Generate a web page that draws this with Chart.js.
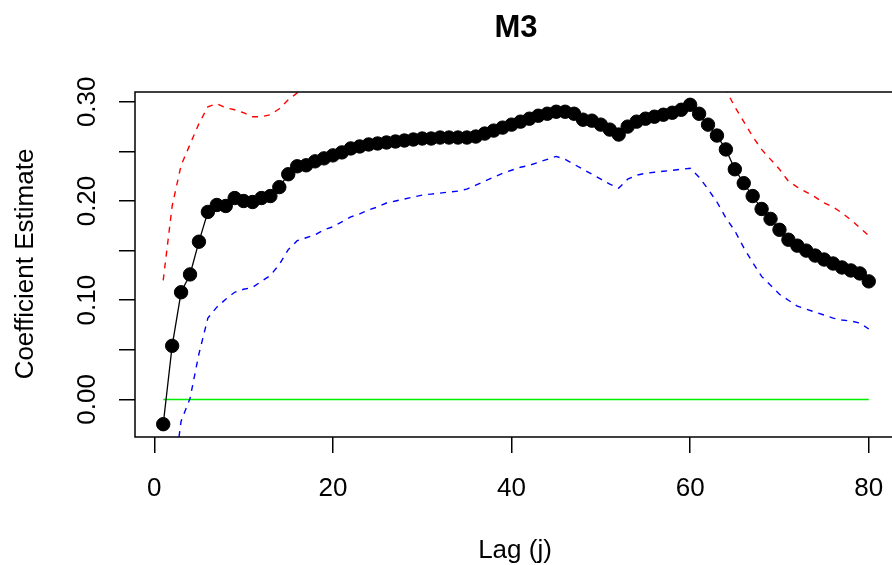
<!DOCTYPE html>
<html lang="en">
<head>
  <meta charset="UTF-8">
  <title>M3 - Coefficient Estimate by Lag</title>
  <script src="https://cdn.jsdelivr.net/npm/chart.js"></script>
  <style>
    html, body {
      margin: 0;
      padding: 0;
      background: #ffffff;
      overflow: hidden;
    }
    canvas {
      display: block;
    }
  </style>
</head>
<body>

  <canvas id="lagChart" width="897" height="565"></canvas>

  <script>
    const lags = [
      1, 2, 3, 4, 5, 6, 7, 8, 9, 10, 11, 12, 13, 14, 15, 16, 17, 18, 19, 20,
      21, 22, 23, 24, 25, 26, 27, 28, 29, 30, 31, 32, 33, 34, 35, 36, 37, 38, 39, 40,
      41, 42, 43, 44, 45, 46, 47, 48, 49, 50, 51, 52, 53, 54, 55, 56, 57, 58, 59, 60,
      61, 62, 63, 64, 65, 66, 67, 68, 69, 70, 71, 72, 73, 74, 75, 76, 77, 78, 79, 80
    ];

    // point estimates
    const estimate = [
      -0.025, 0.054, 0.108, 0.126, 0.159, 0.189, 0.196, 0.195, 0.203, 0.200,
      0.199, 0.203, 0.205, 0.214, 0.227, 0.235, 0.236, 0.240, 0.243, 0.246,
      0.249, 0.253, 0.255, 0.257, 0.258, 0.259, 0.260, 0.261, 0.262, 0.263,
      0.263, 0.264, 0.264, 0.264, 0.264, 0.265, 0.268, 0.271, 0.274, 0.277,
      0.280, 0.283, 0.286, 0.288, 0.290, 0.290, 0.288, 0.282, 0.281, 0.277,
      0.272, 0.267, 0.275, 0.280, 0.283, 0.285, 0.287, 0.289, 0.292, 0.297,
      0.288, 0.277, 0.266, 0.252, 0.232, 0.218, 0.205, 0.192, 0.182, 0.171,
      0.161, 0.155, 0.150, 0.145, 0.141, 0.137, 0.133, 0.130, 0.127, 0.119
    ];

    // upper band (red)
    const upper = [
      0.120, 0.195, 0.236, 0.257, 0.278, 0.295, 0.298, 0.294, 0.292, 0.289,
      0.285, 0.285, 0.287, 0.293, 0.302, 0.309, 0.312, 0.314, 0.315, 0.318,
      0.319, 0.322, 0.323, 0.323, 0.322, 0.320, 0.320, 0.320, 0.320, 0.320,
      0.319, 0.320, 0.319, 0.318, 0.316, 0.314, 0.316, 0.318, 0.320, 0.323,
      0.326, 0.330, 0.333, 0.334, 0.335, 0.338, 0.339, 0.332, 0.335, 0.332,
      0.327, 0.321, 0.328, 0.334, 0.338, 0.341, 0.344, 0.347, 0.352, 0.361,
      0.352, 0.342, 0.328, 0.312, 0.295, 0.280, 0.265, 0.252, 0.242, 0.232,
      0.220, 0.214, 0.209, 0.204, 0.198, 0.194, 0.188, 0.181, 0.173, 0.165
    ];

    // lower band (blue)
    const lower = [
      -0.170, -0.090, -0.022, 0.001, 0.046, 0.082, 0.093, 0.101, 0.108, 0.111,
      0.113, 0.119, 0.125, 0.136, 0.151, 0.160, 0.163, 0.166, 0.171, 0.174,
      0.179, 0.184, 0.187, 0.191, 0.194, 0.198, 0.200, 0.202, 0.204, 0.206,
      0.207, 0.208, 0.209, 0.210, 0.212, 0.216, 0.220, 0.224, 0.228, 0.231,
      0.234, 0.236, 0.239, 0.242, 0.245, 0.242, 0.237, 0.232, 0.227, 0.222,
      0.217, 0.213, 0.222, 0.226, 0.228, 0.229, 0.230, 0.231, 0.232, 0.233,
      0.224, 0.212, 0.199, 0.183, 0.170, 0.153, 0.138, 0.124, 0.115, 0.106,
      0.100, 0.094, 0.091, 0.088, 0.085, 0.082, 0.080, 0.079, 0.077, 0.071
    ];

    const zeroLine = [0, 0];
    const zeroLags = [1, 80];

    const xTicks = [0, 20, 40, 60, 80];
    const xTickLabels = ['0', '20', '40', '60', '80'];
    const yTicks = [0, 0.05, 0.10, 0.15, 0.20, 0.25, 0.30];
    const yTickLabels = ['0.00', '', '0.10', '', '0.20', '', '0.30'];

    const FONT = '"Liberation Sans", Arial, Helvetica, sans-serif';

    const toPoints = (xs, ys) => xs.map((x, i) => ({ x: x, y: ys[i] }));

    // R style box, labels and titles
    const rDecor = {
      id: 'rDecor',
      afterDraw(chart) {
        const ctx = chart.ctx;
        const area = chart.chartArea;
        const xs = chart.scales.x;
        const ys = chart.scales.y;
        ctx.save();
        ctx.strokeStyle = '#000';
        ctx.lineWidth = 1.5;
        ctx.strokeRect(area.left, area.top, area.right - area.left, area.bottom - area.top);

        ctx.fillStyle = '#000';
        ctx.font = '26px ' + FONT;
        ctx.textAlign = 'center';
        ctx.textBaseline = 'alphabetic';
        xs.ticks.forEach((t, i) => {
          ctx.fillText(xTickLabels[i], xs.getPixelForValue(t.value), 496);
        });
        ctx.fillText('Lag (j)', 515, 558);

        ys.ticks.forEach((t, i) => {
          if (!yTickLabels[i]) return;
          ctx.save();
          ctx.translate(95, ys.getPixelForValue(t.value));
          ctx.rotate(-Math.PI / 2);
          ctx.fillText(yTickLabels[i], 0, 0);
          ctx.restore();
        });

        ctx.save();
        ctx.translate(33, 264);
        ctx.rotate(-Math.PI / 2);
        ctx.fillText('Coefficient Estimate', 0, 0);
        ctx.restore();

        ctx.font = 'bold 31px ' + FONT;
        ctx.fillText('M3', (area.left + area.right) / 2, 37);
        ctx.restore();
      }
    };

    const ctx = document.getElementById('lagChart').getContext('2d');
    const chart = new Chart(ctx, {
      type: 'line',
      data: {
        datasets: [
          {
            label: 'Estimate',
            data: toPoints(lags, estimate),
            borderColor: '#000',
            borderWidth: 1.3,
            pointRadius: 6.7,
            pointBorderWidth: 1,
            pointBackgroundColor: '#000',
            pointBorderColor: '#000',
            fill: false
          },
          {
            label: 'Upper',
            data: toPoints(lags, upper),
            borderColor: '#ff0000',
            borderWidth: 1.4,
            borderDash: [6, 6],
            pointRadius: 0,
            fill: false
          },
          {
            label: 'Lower',
            data: toPoints(lags, lower),
            borderColor: '#0000ff',
            borderWidth: 1.4,
            borderDash: [6, 6],
            pointRadius: 0,
            fill: false
          },
          {
            label: 'Zero',
            data: toPoints(zeroLags, zeroLine),
            borderColor: '#00ee00',
            borderWidth: 1.5,
            pointRadius: 0,
            fill: false
          }
        ]
      },
      options: {
        responsive: false,
        animation: false,
        events: [],
        layout: { autoPadding: false, padding: { top: 92, left: 0, right: 0, bottom: 0 } },
        plugins: {
          legend: { display: false },
          tooltip: { enabled: false },
          title: { display: false }
        },
        scales: {
          x: {
            type: 'linear',
            min: -2.16,
            max: 83.16,
            afterBuildTicks: s => { s.ticks = xTicks.map(v => ({ value: v })); },
            afterFit: s => { s.height = 128; },
            ticks: { display: false },
            border: { display: false },
            grid: {
              drawOnChartArea: false,
              drawTicks: true,
              tickLength: 16,
              color: '#000',
              lineWidth: 1.5
            }
          },
          y: {
            type: 'linear',
            min: -0.0379,
            max: 0.3099,
            afterBuildTicks: s => { s.ticks = yTicks.map(v => ({ value: v })); },
            afterFit: s => { s.width = 135; },
            ticks: { display: false },
            border: { display: false },
            grid: {
              drawOnChartArea: false,
              drawTicks: true,
              tickLength: 16,
              color: '#000',
              lineWidth: 1.5
            }
          }
        }
      },
      plugins: [rDecor]
    });
  </script>

</body>
</html>
